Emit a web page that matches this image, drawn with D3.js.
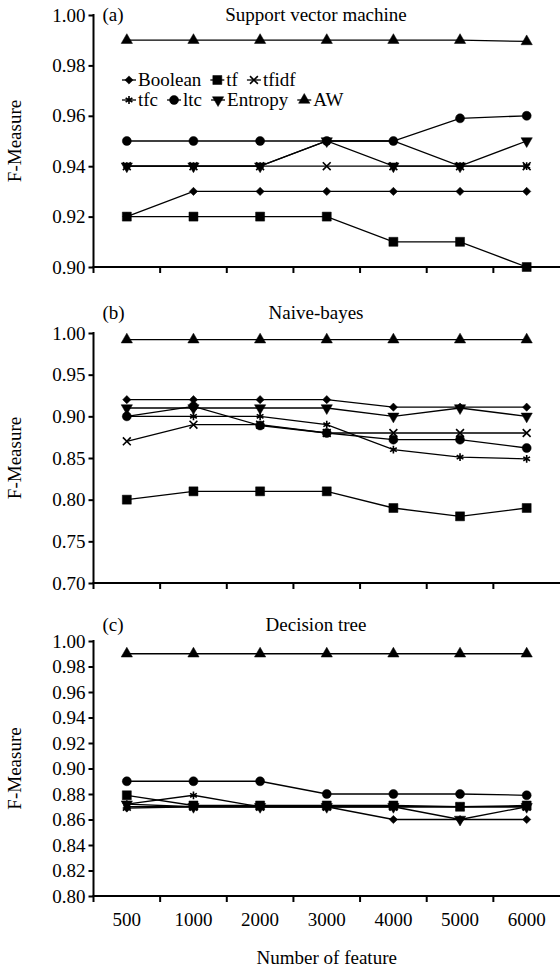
<!DOCTYPE html>
<html>
<head>
<meta charset="utf-8">
<script src="https://cdn.jsdelivr.net/npm/d3@7"></script>
<style>
  body { margin: 0; background: #fff; }
  svg { display: block; font-family: "Liberation Serif", "DejaVu Serif", serif; }
</style>
</head>
<body>
<div id="chart"></div>
<script>
// categories and series
var features = ["500", "1000", "2000", "3000", "4000", "5000", "6000"];
var methods = ["Boolean", "tf", "tfidf", "tfc", "ltc", "Entropy", "AW"];

// (a) Support vector machine
var svmBoolean = [0.92, 0.93, 0.93, 0.93, 0.93, 0.93, 0.93];
var svmTf      = [0.92, 0.92, 0.92, 0.92, 0.91, 0.91, 0.90];
var svmTfidf   = [0.94, 0.94, 0.94, 0.94, 0.94, 0.94, 0.94];
var svmTfc     = [0.94, 0.94, 0.94, 0.95, 0.95, 0.94, 0.94];
var svmLtc     = [0.95, 0.95, 0.95, 0.95, 0.95, 0.959, 0.96];
var svmEntropy = [0.94, 0.94, 0.94, 0.95, 0.94, 0.94, 0.95];
var svmAW      = [0.99, 0.99, 0.99, 0.99, 0.99, 0.99, 0.9895];

// (b) Naive-bayes
var nbBoolean = [0.92, 0.92, 0.92, 0.92, 0.911, 0.911, 0.911];
var nbTf      = [0.80, 0.81, 0.81, 0.81, 0.79, 0.78, 0.79];
var nbTfidf   = [0.87, 0.89, 0.89, 0.88, 0.88, 0.88, 0.88];
var nbTfc     = [0.90, 0.90, 0.90, 0.89, 0.86, 0.851, 0.849];
var nbLtc     = [0.90, 0.912, 0.889, 0.88, 0.872, 0.872, 0.862];
var nbEntropy = [0.91, 0.91, 0.91, 0.91, 0.90, 0.91, 0.90];
var nbAW      = [0.992, 0.992, 0.992, 0.992, 0.992, 0.992, 0.992];

// (c) Decision tree
var dtBoolean = [0.869, 0.87, 0.87, 0.87, 0.86, 0.86, 0.86];
var dtTf      = [0.879, 0.871, 0.871, 0.871, 0.871, 0.87, 0.871];
var dtTfidf   = [0.87, 0.87, 0.87, 0.87, 0.87, 0.87, 0.87];
var dtTfc     = [0.872, 0.879, 0.87, 0.87, 0.87, 0.87, 0.87];
var dtLtc     = [0.89, 0.89, 0.89, 0.88, 0.88, 0.88, 0.879];
var dtEntropy = [0.872, 0.87, 0.87, 0.87, 0.87, 0.86, 0.87];
var dtAW      = [0.99, 0.99, 0.99, 0.99, 0.99, 0.99, 0.99];

// tick labels
var ticksA = [0.90, 0.92, 0.94, 0.96, 0.98, 1.00];
var ticksB = [0.70, 0.75, 0.80, 0.85, 0.90, 0.95, 1.00];
var ticksC = [0.80, 0.82, 0.84, 0.86, 0.88, 0.90, 0.92, 0.94, 0.96, 0.98, 1.00];

var panels = [
  {tag: "(a)", title: "Support vector machine", series: [svmBoolean, svmTf, svmTfidf, svmTfc, svmLtc, svmEntropy, svmAW],
   ticks: ticksA, top: 15, bottom: 267, tagDy: 0, legend: true},
  {tag: "(b)", title: "Naive-bayes", series: [nbBoolean, nbTf, nbTfidf, nbTfc, nbLtc, nbEntropy, nbAW],
   ticks: ticksB, top: 333, bottom: 583, tagDy: -20, legend: false},
  {tag: "(c)", title: "Decision tree", series: [dtBoolean, dtTf, dtTfidf, dtTfc, dtLtc, dtEntropy, dtAW],
   ticks: ticksC, top: 641, bottom: 896, tagDy: -16, legend: false}
];

var width = 560, height = 968;
var left = 93.5, right = 560;
var fontSize = 19;

var svg = d3.select("#chart").append("svg")
    .attr("width", width)
    .attr("height", height);

var x = d3.scaleBand()
    .domain(features)
    .range([left, right])
    .paddingInner(0)
    .paddingOuter(0);

// marker for each method
var markers = [
  {type: d3.symbolSquare, size: 34, rotate: 45, fill: true},
  {type: d3.symbolSquare, size: 81, rotate: 0, fill: true},
  {type: d3.symbolTimes, size: 42, rotate: 0, fill: false},
  {type: d3.symbolAsterisk, size: 42, rotate: 0, fill: false},
  {type: d3.symbolCircle, size: 64, rotate: 0, fill: true},
  {type: d3.symbolTriangle, size: 55, rotate: 180, fill: true},
  {type: d3.symbolTriangle, size: 55, rotate: 0, fill: true}
];

function drawMarker(g, i, cx, cy) {
  var m = markers[i];
  g.append("path")
      .attr("d", d3.symbol().type(m.type).size(m.size)())
      .attr("transform", "translate(" + cx + "," + cy + ") rotate(" + m.rotate + ")")
      .attr("fill", m.fill ? "#000" : "none")
      .attr("stroke", "#000")
      .attr("stroke-width", m.fill ? 0.5 : 1.6);
}

panels.forEach(function(p) {
  var lo = p.ticks[0], hi = p.ticks[p.ticks.length - 1];
  var y = d3.scaleLinear().domain([lo, hi]).range([p.bottom, p.top]);
  var g = svg.append("g");

  // y axis
  var yAxis = d3.axisLeft(y)
      .tickValues(p.ticks)
      .tickFormat(d3.format(".2f"))
      .tickSize(5)
      .tickPadding(3);
  var ya = g.append("g")
      .attr("transform", "translate(" + left + ",0)")
      .call(yAxis);
  ya.select(".domain").remove();
  ya.selectAll(".tick line").attr("stroke", "#000").attr("stroke-width", 2);
  ya.selectAll(".tick text").attr("font-size", fontSize).attr("font-family", "Liberation Serif").attr("fill", "#000");
  g.append("line")
      .attr("x1", left).attr("x2", left)
      .attr("y1", p.top - 1).attr("y2", p.bottom + 1)
      .attr("stroke", "#000").attr("stroke-width", 2);

  // x axis: ticks at band boundaries
  g.append("line")
      .attr("x1", left - 1).attr("x2", right)
      .attr("y1", p.bottom).attr("y2", p.bottom)
      .attr("stroke", "#000").attr("stroke-width", 2);
  g.selectAll(".xtick").data(features).enter().append("line")
      .attr("class", "xtick")
      .attr("x1", function(d) { return x(d); })
      .attr("x2", function(d) { return x(d); })
      .attr("y1", p.bottom).attr("y2", p.bottom + 6)
      .attr("stroke", "#000").attr("stroke-width", 2);

  // tag and title
  g.append("text")
      .attr("x", left + 9).attr("y", p.top + p.tagDy + 6)
      .attr("font-size", fontSize)
      .text(p.tag);
  g.append("text")
      .attr("x", 316).attr("y", p.top + p.tagDy + 6)
      .attr("text-anchor", "middle")
      .attr("font-size", fontSize)
      .text(p.title);

  // y label
  g.append("text")
      .attr("transform", "translate(21," + ((p.top + p.bottom) / 2) + ") rotate(-90)")
      .attr("text-anchor", "middle")
      .attr("font-size", fontSize)
      .text("F-Measure");

  // series
  var line = d3.line()
      .x(function(d, i) { return x(features[i]) + x.bandwidth() / 2; })
      .y(function(d) { return y(d); });

  p.series.forEach(function(vals, si) {
    g.append("path")
        .datum(vals)
        .attr("d", line)
        .attr("fill", "none")
        .attr("stroke", "#000")
        .attr("stroke-width", 1.3);
    vals.forEach(function(v, i) {
      drawMarker(g, si, x(features[i]) + x.bandwidth() / 2, y(v));
    });
  });

  // legend
  if (p.legend) {
    var rows = [[0, 1, 2], [3, 4, 5, 6]];
    var rowY = [80, 100];
    rows.forEach(function(row, r) {
      var cx = 122;
      row.forEach(function(mi) {
        var lg = g.append("g");
        lg.append("line")
            .attr("x1", cx).attr("x2", cx + 14)
            .attr("y1", rowY[r]).attr("y2", rowY[r])
            .attr("stroke", "#000").attr("stroke-width", 1.3);
        drawMarker(lg, mi, cx + 7, rowY[r]);
        var t = lg.append("text")
            .attr("x", cx + 16).attr("y", rowY[r] + 6)
            .attr("font-size", fontSize)
            .text(methods[mi]);
        cx += 16 + t.node().getComputedTextLength() + 9;
      });
    });
  }
});

// x tick labels under the last panel
var lastBottom = panels[2].bottom;
svg.selectAll(".xlabel").data(features).enter().append("text")
    .attr("class", "xlabel")
    .attr("x", function(d) { return x(d) + x.bandwidth() / 2; })
    .attr("y", lastBottom + 30)
    .attr("text-anchor", "middle")
    .attr("font-size", fontSize)
    .text(function(d) { return d; });

svg.append("text")
    .attr("x", (left + right) / 2)
    .attr("y", lastBottom + 68)
    .attr("text-anchor", "middle")
    .attr("font-size", fontSize)
    .text("Number of feature");
</script>
</body>
</html>
